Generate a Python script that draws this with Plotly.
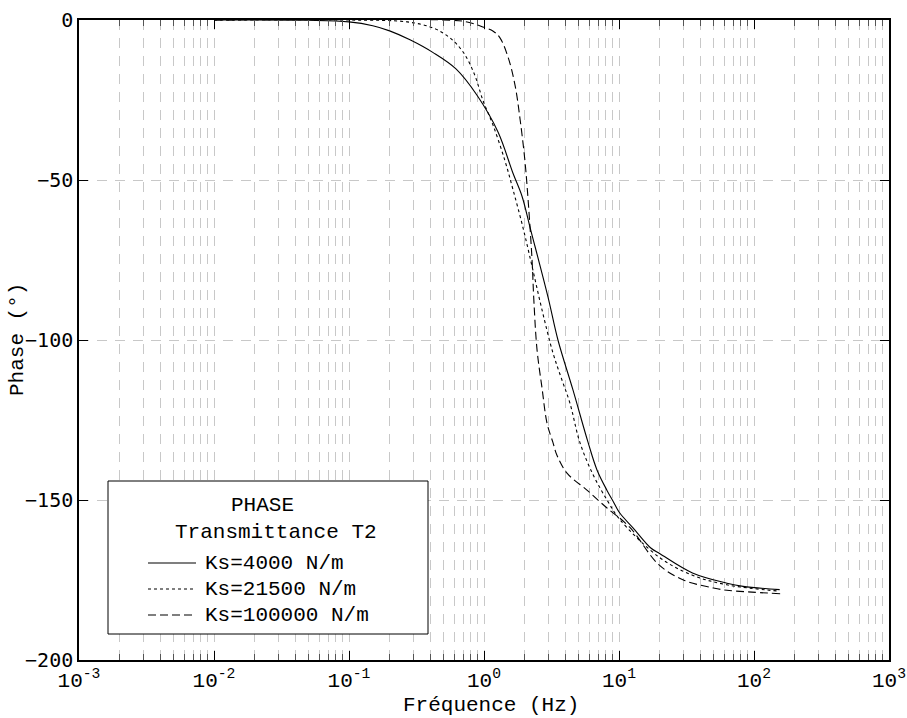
import plotly.graph_objects as go

# ---- data ----
f_4000 = [0.01, 0.05, 0.1, 0.15, 0.2, 0.283, 0.42, 0.62, 0.89, 1.27, 1.64, 1.91, 2.19, 2.98, 3.53, 4.56,
          5.9, 6.87, 8.15, 9.1, 10.1, 12.7, 17.2, 20.1, 35, 63, 83, 155]
p_4000 = [0, -0.1, -0.6, -1.8, -3.4, -6.2, -10.2, -15.3, -23.6, -35, -47.9, -55, -64.7, -86.6, -100, -115.6,
          -132, -140.6, -147, -150.6, -154, -158.7, -165, -166.8, -172.8, -176, -177, -178]

f_21500 = [0.01, 0.1, 0.27, 0.42, 0.56, 0.70, 0.85, 0.98, 1.17, 1.43, 1.64, 1.94, 2.27, 2.69, 3.24,
           3.78, 4.33, 5.13, 6.41, 8.15, 10.1, 20, 35, 63, 155]
p_21500 = [0, 0, -0.6, -2.5, -5.6, -10, -17, -25, -33, -44, -53, -64.7, -77, -90.6, -104,
           -112.5, -119.7, -132, -142, -150, -156, -168, -173.5, -176.5, -178.5]

f_100000 = [0.01, 0.5, 0.75, 0.98, 1.17, 1.31, 1.51, 1.70, 1.85, 2.01, 2.12, 2.27, 2.34, 2.47, 2.69,
            2.93, 3.24, 3.47, 4.12, 5.79, 7.24, 8.15, 12, 19.7, 30, 50, 63, 160]
p_100000 = [0, 0, -0.6, -2.2, -3.5, -5.5, -11.7, -20.5, -31, -44, -56, -75, -87.5, -103, -115,
            -126, -132, -136, -141.6, -146.9, -150.6, -152.5, -158.5, -170.2, -175, -177.5, -178.2, -179.3]

series_names = ["Ks=4000 N/m", "Ks=21500 N/m", "Ks=100000 N/m"]
x_tick_vals = [1e-3, 1e-2, 1e-1, 1e0, 1e1, 1e2, 1e3]
x_tick_text = ["10<sup>-3</sup>", "10<sup>-2</sup>", "10<sup>-1</sup>", "10<sup>0</sup>",
               "10<sup>1</sup>", "10<sup>2</sup>", "10<sup>3</sup>"]
y_tick_vals = [-200, -150, -100, -50, 0]
legend_title_lines = ["PHASE", "Transmittance T2"]

# ---- styles ----
W, H = 907, 718
L, R, T, B = 79, 18, 20, 58
PW, PH = W - L - R, H - T - B
dashes = ["solid", "3px,3px", "8px,4px"]
MONO = "Liberation Mono, Courier New, monospace"
GRID = "#c8c8c8"

def px_x(px):
    return (px - L) / PW

def px_y(py):
    return (H - B - py) / PH

minor_vals = [m * 10.0 ** e for e in range(-3, 3) for m in range(2, 10)]

fig = go.Figure()
for fx, py_, name, d in zip([f_4000, f_21500, f_100000], [p_4000, p_21500, p_100000], series_names, dashes):
    fig.add_trace(go.Scatter(x=fx, y=py_, mode="lines", name=name,
                             line=dict(color="black", width=1.1, dash=d, shape="spline", smoothing=1.0)))

fig.update_layout(
    width=W, height=H,
    margin=dict(l=L, r=R, t=T, b=B, autoexpand=False),
    paper_bgcolor="white", plot_bgcolor="white",
    showlegend=False,
    font=dict(family=MONO, size=21, color="black"),
)
fig.update_xaxes(
    type="log", range=[-3, 3], tickmode="array", tickvals=x_tick_vals, ticktext=x_tick_text,
    ticks="inside", ticklen=9, tickwidth=1.3, tickcolor="black",
    showline=True, linecolor="black", linewidth=1.5, mirror="ticks",
    showgrid=True, gridcolor=GRID, griddash="10px,8px", gridwidth=1,
    minor=dict(tickmode="array", tickvals=minor_vals, ticks="inside", ticklen=6,
               tickcolor="#555555", showgrid=True, gridcolor=GRID, griddash="10px,8px", gridwidth=1),
    tickfont=dict(family=MONO, size=21), zeroline=False, automargin=False,
)
fig.update_yaxes(
    range=[-200, 0], tickmode="array", tickvals=y_tick_vals,
    ticks="inside", ticklen=9, tickwidth=1.3, tickcolor="black",
    showline=True, linecolor="black", linewidth=1.5, mirror="ticks",
    showgrid=True, gridcolor=GRID, griddash="10px,8px", gridwidth=1,
    tickfont=dict(family="DejaVu Sans Mono, monospace", size=20), zeroline=False, automargin=False,
)

# axis titles
fig.add_annotation(text="Fréquence (Hz)", xref="paper", yref="paper", x=px_x(491), y=px_y(705),
                   showarrow=False, font=dict(family=MONO, size=21), xanchor="center", yanchor="middle")
fig.add_annotation(text="Phase (°)", xref="paper", yref="paper", x=px_x(17), y=px_y(340),
                   showarrow=False, textangle=-90, font=dict(family=MONO, size=21),
                   xanchor="center", yanchor="middle")

# legend box
fig.add_shape(type="rect", xref="paper", yref="paper", x0=px_x(108), x1=px_x(428), y0=px_y(634), y1=px_y(481),
              line=dict(color="black", width=1), fillcolor="white", layer="above")
fig.add_annotation(text=legend_title_lines[0], xref="paper", yref="paper", x=px_x(262), y=px_y(505),
                   showarrow=False, xanchor="center", yanchor="middle", font=dict(family=MONO, size=21))
fig.add_annotation(text=legend_title_lines[1], xref="paper", yref="paper", x=px_x(276), y=px_y(532),
                   showarrow=False, xanchor="center", yanchor="middle", font=dict(family=MONO, size=21))
for i, (name, d) in enumerate(zip(series_names, dashes)):
    yy = [563, 589, 615][i]
    fig.add_shape(type="line", xref="paper", yref="paper", x0=px_x(148), x1=px_x(196), y0=px_y(yy), y1=px_y(yy),
                  line=dict(color="black", width=1.1, dash=d), layer="above")
    fig.add_annotation(text=name, xref="paper", yref="paper", x=px_x(203), y=px_y(yy),
                       showarrow=False, xanchor="left", yanchor="middle", font=dict(family=MONO, size=21))

fig.write_html("out.html")
